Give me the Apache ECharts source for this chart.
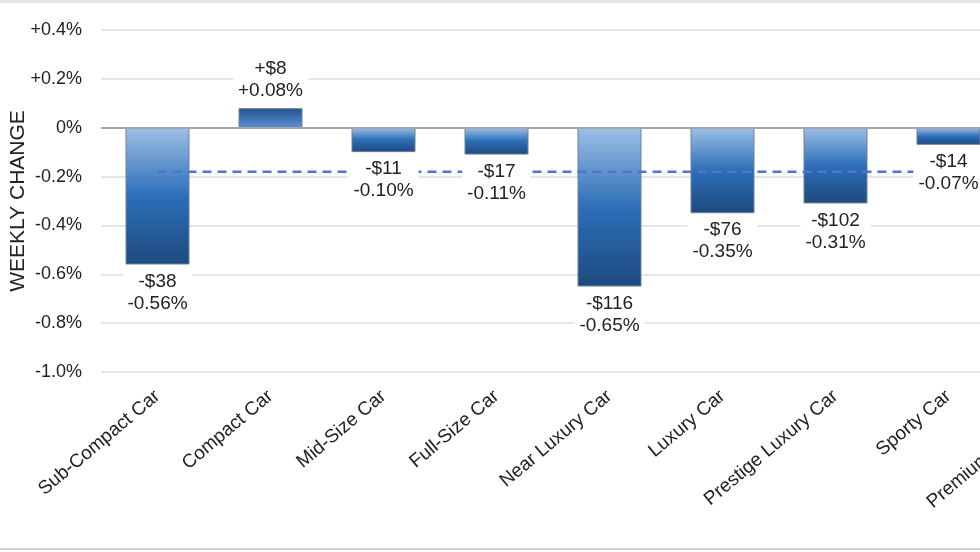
<!DOCTYPE html>
<html><head><meta charset="utf-8">
<script src="https://cdn.jsdelivr.net/npm/echarts@6/dist/echarts.min.js"></script>
<style>html,body{margin:0;padding:0;background:#fff;overflow:hidden;width:980px;height:552px}#c{width:1130px;height:552px}</style>
</head><body><div id="c"></div>
<script>
const categories = ['Sub-Compact Car','Compact Car','Mid-Size Car','Full-Size Car','Near Luxury Car','Luxury Car','Prestige Luxury Car','Sporty Car','Premium Sporty Car'];
const pctChange = [-0.56, 0.08, -0.10, -0.11, -0.65, -0.35, -0.31, -0.07, null];
const dollarChange = [-38, 8, -11, -17, -116, -76, -102, -14, null];
const averagePct = -0.18;
const yTicks = { min: -1.0, max: 0.4, step: 0.2 };

const FONT = 'Liberation Sans, Arial, sans-serif';
const negGrad = {type:'linear',x:0,y:0,x2:0,y2:1,colorStops:[{offset:0,color:'#9cc0e6'},{offset:0.5,color:'#2d6eb8'},{offset:1,color:'#1e4a7e'}]};
const posGrad = {type:'linear',x:0,y:0,x2:0,y2:1,colorStops:[{offset:0,color:'#21508a'},{offset:1,color:'#5b94d6'}]};

const barData = pctChange.map(v => v == null ? null : {value:v, itemStyle:{color: v < 0 ? negGrad : posGrad}});
const fmtDollar = d => (d > 0 ? '+' : '-') + '$' + Math.abs(d);
const fmtPct = v => (v > 0 ? '+' : '') + v.toFixed(2) + '%';

const chart = echarts.init(document.getElementById('c'));
chart.setOption({
  animation:false,
  textStyle:{fontFamily:FONT},
  grid:{left:101, top:30, width:1017, height:342, containLabel:false, outerBoundsMode:'none'},
  xAxis:{type:'category', data:categories,
    axisLine:{show:false}, axisTick:{show:false},
    axisLabel:{rotate:40, margin:22, fontSize:19, color:'#222', fontFamily:FONT, interval:0}},
  yAxis:{type:'value', min:yTicks.min, max:yTicks.max, interval:yTicks.step,
    name:'WEEKLY CHANGE', nameLocation:'middle', nameGap:72, nameRotate:90, nameMoveOverlap:false,
    nameTextStyle:{fontSize:21, color:'#222', fontFamily:FONT},
    axisLine:{show:false}, axisTick:{show:false},
    splitLine:{lineStyle:{color:'#dcdcdc', width:1.5}},
    axisLabel:{fontSize:18, color:'#222', margin:19, fontFamily:FONT,
      formatter: v => { const r = Math.round(v*10)/10; return r === 0 ? '0%' : (r > 0 ? '+' : '') + r.toFixed(1) + '%'; }}},
  series:[
    {type:'bar', data:barData, barWidth:64, z:2,
     itemStyle:{borderColor:'#6f8196', borderWidth:1},
     markLine:{silent:true, symbol:'none', label:{show:false},
       lineStyle:{color:'#a6a6a6', width:2, type:'solid'}, data:[{yAxis:0}]}},
    {type:'line', data:categories.map(() => averagePct), z:3, symbol:'none', silent:true,
     lineStyle:{color:'#4f76cc', width:2.5, type:[9,6]}},
    {type:'bar', data:pctChange, barWidth:64, barGap:'-100%', z:4, silent:true,
     itemStyle:{color:'rgba(0,0,0,0)'},
     label:{show:true, position:'outside', distance:5, fontSize:19, lineHeight:22, color:'#222', fontFamily:FONT,
       backgroundColor:'#fff', padding:[1,5],
       formatter: p => p.value == null ? '' : fmtDollar(dollarChange[p.dataIndex]) + '\n' + fmtPct(p.value)}}
  ],
  graphic:[
    {type:'rect', left:0, top:0, shape:{width:1130, height:3}, style:{fill:'#e6e6e6'}, silent:true},
    {type:'rect', left:0, top:548, shape:{width:1130, height:2}, style:{fill:'#d0d0d0'}, silent:true}
  ]
});
</script></body></html>
